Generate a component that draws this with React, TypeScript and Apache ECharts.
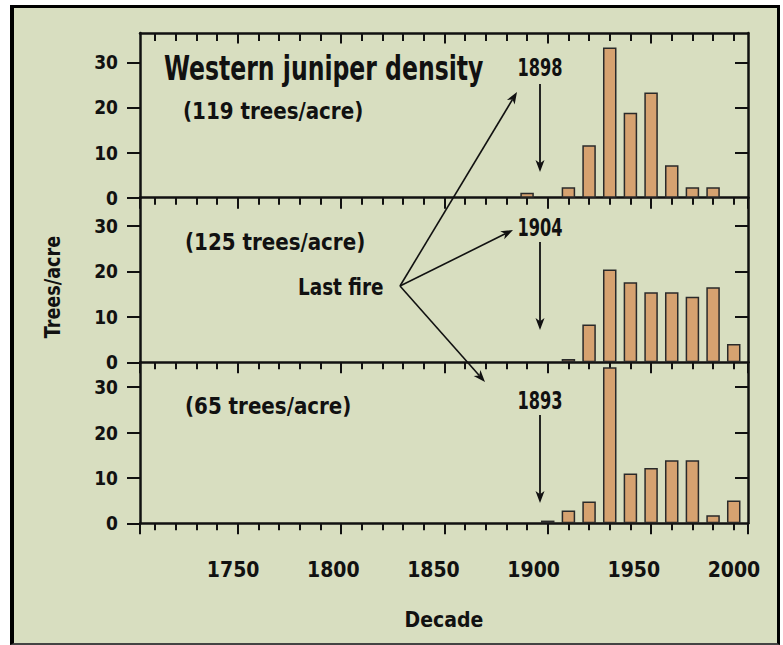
import React, { useEffect, useRef } from "react";
import * as echarts from "echarts";

// ---- data ----
const decades = [1890, 1900, 1910, 1920, 1930, 1940, 1950, 1960, 1970, 1980, 1990];
const stand119 = [1.1, 0, 2.3, 11.6, 33.3, 18.8, 23.3, 7.2, 2.3, 2.3, 0];
const stand125 = [0, 0, 0.7, 8.3, 20.4, 17.6, 15.4, 15.4, 14.4, 16.5, 4.0];
const stand65 = [0, 0.6, 2.8, 4.8, 34.4, 11.0, 12.2, 13.9, 13.9, 1.8, 5.0];
const panelLabels = ["(119 trees/acre)", "(125 trees/acre)", "(65 trees/acre)"];
const lastFireYears = ["1898", "1904", "1893"];
const yTickValues = [0, 10, 20, 30];
const xLabelValues = [1750, 1800, 1850, 1900, 1950, 2000];
const longTickValues = [1750, 1800, 1850, 1900, 1950];
const decadeTickValues = [
  1710, 1720, 1730, 1740, 1750, 1760, 1770, 1780, 1790, 1800, 1810, 1820, 1830, 1840, 1850,
  1860, 1870, 1880, 1890, 1900, 1910, 1920, 1930, 1940, 1950, 1960, 1970, 1980, 1990,
];
const title = "Western juniper density";

// ---- layout ----
const X_MIN = 1702.7;
const X_MAX = 1996.9;
const XL_MIN = 1703.5;
const XL_MAX = 2007.0;
const FONT = "'DejaVu Sans Condensed', 'DejaVu Sans', sans-serif";
const INK = "#111";
const panels = [
  { top: 33, height: 164.7, yMax: 36.5, values: stand119 },
  { top: 197.7, height: 164.6, yMax: 36.2, values: stand125 },
  { top: 362.3, height: 161, yMax: 35.5, values: stand65 },
];

function arrow(x1: number, y1: number, x2: number, y2: number, w = 1.6) {
  const dx = x2 - x1;
  const dy = y2 - y1;
  const L = Math.hypot(dx, dy);
  const ux = dx / L;
  const uy = dy / L;
  const hl = 12;
  const hw = 4.5;
  const bx = x2 - ux * hl;
  const by = y2 - uy * hl;
  const nx = x2 - ux * hl * 0.72;
  const ny = y2 - uy * hl * 0.72;
  return [
    { type: "line", z: 50, shape: { x1, y1, x2: nx, y2: ny }, style: { stroke: INK, lineWidth: w } },
    {
      type: "polygon",
      z: 50,
      shape: {
        points: [
          [x2, y2],
          [bx - uy * hw, by + ux * hw],
          [nx, ny],
          [bx + uy * hw, by - ux * hw],
        ],
      },
      style: { fill: INK },
    },
  ];
}

function txt(
  text: string,
  x: number,
  y: number,
  size: number,
  sx: number,
  align = "left",
  extra: any = {}
) {
  return {
    type: "text",
    z: 60,
    x,
    y,
    scaleX: sx,
    ...extra,
    style: {
      text,
      fill: INK,
      font: `bold ${size}px ${FONT}`,
      textAlign: align,
      textVerticalAlign: "middle",
    },
  };
}

const noComma = (v: number) => String(v);

function buildOption() {
  const grids: any[] = [];
  const xAxes: any[] = [];
  const yAxes: any[] = [];
  const series: any[] = [];

  panels.forEach((p, gi) => {
    grids.push({ left: 140, right: 35, top: p.top, height: p.height, containLabel: false });
    const mainIdx = xAxes.length;
    // bottom: decade ticks
    xAxes.push({
      type: "value",
      gridIndex: gi,
      position: "bottom",
      min: X_MIN,
      max: X_MAX,
      axisLine: { show: true, onZero: false, lineStyle: { color: INK, width: 2.5 } },
      axisTick: {
        show: true,
        inside: false,
        length: 7,
        customValues: decadeTickValues,
        lineStyle: { color: INK, width: 2 },
      },
      axisLabel: { show: false },
      splitLine: { show: false },
    });
    // bottom: long ticks
    xAxes.push({
      type: "value",
      gridIndex: gi,
      position: "bottom",
      min: X_MIN,
      max: X_MAX,
      axisLine: { show: false, onZero: false },
      axisTick: {
        show: true,
        inside: false,
        length: 11,
        customValues: [X_MIN, ...longTickValues, X_MAX],
        lineStyle: { color: INK, width: 2 },
      },
      axisLabel: { show: false },
      splitLine: { show: false },
    });
    if (gi === 0) {
      xAxes.push({
        type: "value",
        gridIndex: gi,
        position: "top",
        min: X_MIN,
        max: X_MAX,
        axisLine: { show: true, onZero: false, lineStyle: { color: INK, width: 2.5 } },
        axisTick: {
          show: true,
          inside: true,
          length: 8,
          customValues: decadeTickValues,
          lineStyle: { color: INK, width: 2 },
        },
        axisLabel: { show: false },
        splitLine: { show: false },
      });
      xAxes.push({
        type: "value",
        gridIndex: gi,
        position: "top",
        min: X_MIN,
        max: X_MAX,
        axisLine: { show: false, onZero: false },
        axisTick: {
          show: true,
          inside: true,
          length: 10.5,
          customValues: longTickValues,
          lineStyle: { color: INK, width: 2 },
        },
        axisLabel: { show: false },
        splitLine: { show: false },
      });
    }
    if (gi === 2) {
      xAxes.push({
        type: "value",
        gridIndex: gi,
        position: "bottom",
        min: XL_MIN,
        max: XL_MAX,
        axisLine: { show: false, onZero: false },
        axisTick: { show: false },
        axisLabel: {
          show: true,
          customValues: xLabelValues,
          formatter: noComma,
          margin: 36,
          color: INK,
          fontFamily: FONT,
          fontWeight: "bold",
          fontSize: 21,
        },
        splitLine: { show: false },
        name: "Decade",
        nameLocation: "middle",
        nameGap: 86,
        nameTextStyle: { color: INK, fontFamily: FONT, fontWeight: "bold", fontSize: 21 },
      });
    }
    const leftIdx = yAxes.length;
    yAxes.push({
      type: "value",
      gridIndex: gi,
      position: "left",
      min: 0,
      max: p.yMax,
      axisLine: { show: true, onZero: false, lineStyle: { color: INK, width: 2.5 } },
      axisTick: {
        show: true,
        inside: false,
        length: 13,
        customValues: yTickValues,
        lineStyle: { color: INK, width: 2 },
      },
      axisLabel: {
        show: true,
        customValues: yTickValues,
        formatter: noComma,
        margin: 22,
        color: INK,
        fontFamily: FONT,
        fontWeight: "bold",
        fontSize: 19,
      },
      splitLine: { show: false },
    });
    yAxes.push({
      type: "value",
      gridIndex: gi,
      position: "right",
      min: 0,
      max: p.yMax,
      axisLine: { show: true, onZero: false, lineStyle: { color: INK, width: 2.5 } },
      axisTick: {
        show: true,
        inside: true,
        length: 13,
        customValues: yTickValues.filter((v) => v > 0),
        lineStyle: { color: INK, width: 2 },
      },
      axisLabel: { show: false },
      splitLine: { show: false },
    });
    series.push({
      type: "bar",
      name: panelLabels[gi],
      xAxisIndex: mainIdx,
      yAxisIndex: leftIdx,
      barWidth: 13.5,
      itemStyle: { color: "#D6A270", borderColor: "#2a2a2a", borderWidth: 1.5 },
      data: decades
        .map((d, i) => [d, p.values[i]])
        .filter((pt) => (pt[1] as number) > 0),
    });
  });

  const graphic: any[] = [
    txt(title, 164, 68, 34, 0.77),
    txt(panelLabels[0], 183, 111, 23, 0.96),
    txt(panelLabels[1], 185, 242, 23, 0.96),
    txt(panelLabels[2], 185, 406, 23, 0.96),
    txt("Last fire", 298, 287, 23, 0.89),
    txt(lastFireYears[0], 540, 67, 25, 0.72, "center"),
    txt(lastFireYears[1], 540, 227, 25, 0.72, "center"),
    txt(lastFireYears[2], 540, 400, 25, 0.72, "center"),
    txt("Trees/acre", 53, 287, 22, 0.89, "center", { rotation: Math.PI / 2 }),
    ...arrow(540, 84, 540, 172, 1.8),
    ...arrow(540, 242, 540, 330, 1.8),
    ...arrow(540, 415, 540, 503, 1.8),
    ...arrow(400, 286, 517, 92),
    ...arrow(400, 286, 513, 230),
    ...arrow(400, 286, 485, 382),
  ];

  return {
    animation: false,
    backgroundColor: "transparent",
    grid: grids,
    xAxis: xAxes,
    yAxis: yAxes,
    series,
    graphic,
  };
}

export default function App() {
  const ref = useRef<HTMLDivElement>(null);
  useEffect(() => {
    if (!ref.current) return;
    const chart = echarts.init(ref.current, null, { renderer: "svg" });
    chart.setOption(buildOption() as any);
    return () => chart.dispose();
  }, []);
  return (
    <div style={{ position: "absolute", left: 0, top: 0, width: 783, height: 645, background: "#fff" }}>
      <div
        style={{
          position: "absolute",
          left: 10,
          top: 5,
          width: 770,
          height: 640,
          boxSizing: "border-box",
          background: "#D8DEC0",
          borderLeft: "4px solid #000",
          borderTop: "3.5px solid #000",
          borderRight: "3.5px solid #000",
          borderBottom: "2px solid #444",
        }}
      />
      <div ref={ref} style={{ position: "absolute", left: 0, top: 0, width: 783, height: 645 }} />
    </div>
  );
}
